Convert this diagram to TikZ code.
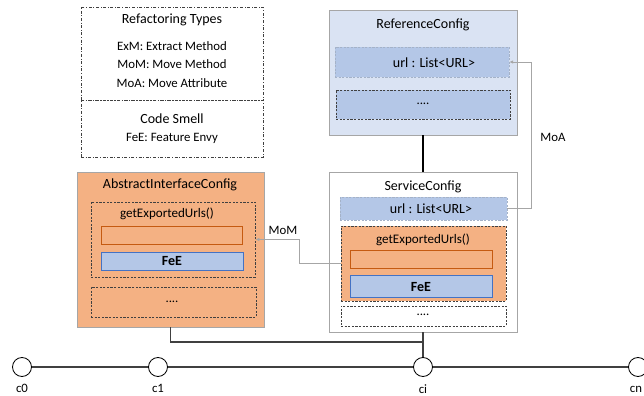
\documentclass[tikz,border=0pt]{standalone}
\usepackage{fontspec}
\setmainfont{Carlito}
\usetikzlibrary{fit,arrows.meta}
\definecolor{lblue}{HTML}{DAE3F3}
\definecolor{mblue}{HTML}{B4C7E7}
\definecolor{orng}{HTML}{F4B183}
\definecolor{dorng}{HTML}{C55A11}
\definecolor{fblue}{HTML}{4472C4}
\definecolor{gline}{HTML}{A6A6A6}
\definecolor{dline}{HTML}{404040}
\begin{document}
\begin{tikzpicture}[x=0.75pt,y=-0.75pt,
  box/.style={fit={#1},inner sep=0pt,draw},
  legendbox/.style={draw=dline,dash pattern=on 2.2pt off 1.3pt on 0.6pt off 1.3pt,line width=0.5pt},
  outerbox/.style={draw=gline,line width=0.6pt},
  dbox/.style={draw=dline,dash pattern=on 1.6pt off 1.1pt,line width=0.5pt},
  urlbox/.style={fill=mblue,draw=mblue!70!gray,dash pattern=on 1.6pt off 1.1pt,line width=0.3pt},
  feebox/.style={fill=mblue,draw=fblue,line width=0.6pt},
  emptybox/.style={draw=dorng,line width=0.6pt},
  title/.style={font=\fontsize{10.5}{12}\selectfont,inner sep=0pt},
  mtitle/.style={font=\fontsize{9.8}{11.5}\selectfont,inner sep=0pt},
  item/.style={font=\fontsize{9.6}{11}\selectfont,inner sep=0pt},
  feetext/.style={font=\fontsize{10.5}{12}\selectfont\bfseries,inner sep=0pt},
  conn/.style={draw=gline,line width=0.6pt},
  tip/.style={-{Latex[length=3pt,width=2.6pt]},draw=gline,line width=0.6pt},
  commit/.style={circle,draw=black,fill=white,minimum size=14.25pt,inner sep=0pt,line width=0.6pt},
]
\useasboundingbox (0,0) rectangle (644,396);
% legend
\node[legendbox,box={(81,7) (263,100)}] (lg1) {};
\node[legendbox,box={(81,100) (263,157)}] (lg2) {};
\node[title] (lgt1) at (172,20) {Refactoring Types};
\node[item] (lgi1) at (172,46) {ExM: Extract Method};
\node[item] (lgi2) at (172,64.5) {MoM: Move Method};
\node[item] (lgi3) at (172,83) {MoA: Move Attribute};
\node[title] (lgt2) at (172,118.5) {Code Smell};
\node[item] (lgi4) at (172,138) {FeE: Feature Envy};
% ReferenceConfig
\node[outerbox,fill=lblue,box={(329,10) (517,135)}] (rc) {};
\node[title] (rct) at (423,25) {ReferenceConfig};
\node[urlbox,box={(335,47) (509,77)}] (ru) {};
\node[title] (rut) at (434,63) {url : List<URL>};
\node[dbox,fill=mblue,box={(336,90) (510,119)}] (rd) {};
\node[item] (rdt) at (423,104) {....};
% ServiceConfig
\node[outerbox,fill=white,box={(329,172) (517,332)}] (sc) {};
\node[title] (sct) at (423,187) {ServiceConfig};
\node[urlbox,box={(340,197) (507,220)}] (su) {};
\node[title] (sut) at (431,209) {url : List<URL>};
\node[dbox,fill=orng,box={(341,226) (506,301)}] (sg) {};
\node[mtitle] (sgt) at (423,240) {getExportedUrls()};
\node[emptybox,box={(350,250) (492,268)}] (se) {};
\node[feebox,box={(350,275) (492,297)}] (sf) {};
\node[feetext] (sft) at (421,287) {FeE};
\node[dbox,fill=white,box={(341,306) (506,326)}] (sd) {};
\node[item] (sdt) at (423,315) {....};
% AbstractInterfaceConfig
\node[outerbox,fill=orng,box={(77,172) (264,327)}] (ai) {};
\node[title] (ait) at (170,184.5) {AbstractInterfaceConfig};
\node[dbox,box={(91,202) (255,277)}] (ag) {};
\node[mtitle] (agt) at (167,213.5) {getExportedUrls()};
\node[emptybox,box={(101,226) (242,244)}] (ae) {};
\node[feebox,box={(101,252) (243,270)}] (af) {};
\node[feetext] (aft) at (172,261.5) {FeE};
\node[dbox,box={(91,287) (256,317)}] (ad) {};
\node[item] (adt) at (172,302) {....};
% connectors
\draw[line width=0.9pt] (rc.south) -- (sc.north);
\coordinate (momk) at (299,0);
\coordinate (moak) at (531,0);
\draw[tip] (sg.west) -- (sg.west -| momk) |- (ag.east);
\node[item] (moml) at (283,230) {MoM};
\draw[tip] (su.east) -- (su.east -| moak) |- (ru.east);
\node[item] (moal) at (553,137) {MoA};
% commits
\node[commit] (c0) at (22,367) {};
\node[commit] (c1) at (158,367) {};
\node[commit] (ci) at (423,367) {};
\node[commit] (cn) at (638,367) {};
\draw[line width=0.9pt,draw=dline] (c0) -- (c1);
\draw[line width=0.9pt,draw=dline] (c1) -- (ci);
\draw[line width=0.9pt,draw=dline] (ci) -- (cn);
\coordinate (jn) at (423,342);
\draw[line width=0.9pt,draw=dline] (ai.south) |- (jn);
\draw[line width=0.9pt,draw=dline] (sc.south) -- (ci.north);
\node[item,anchor=base] (c0l) at (22,392) {c0};
\node[item,anchor=base] (c1l) at (158,392) {c1};
\node[item,anchor=base] (cil) at (423,393) {ci};
\node[item,anchor=base] (cnl) at (636,392) {cn};
\end{tikzpicture}
\end{document}
